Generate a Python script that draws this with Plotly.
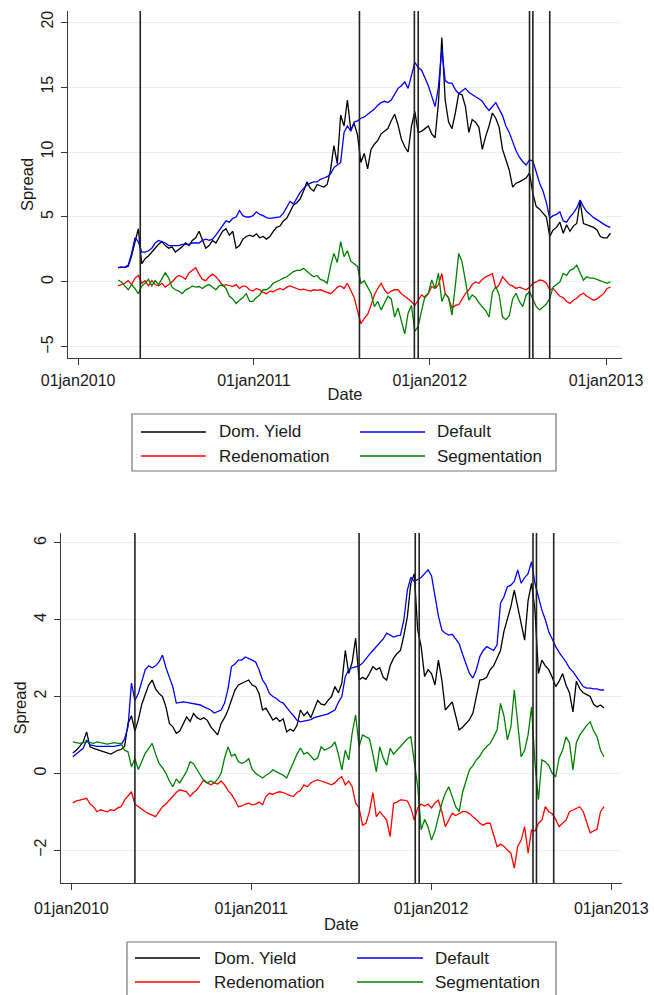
import pandas as pd
import plotly.graph_objects as go

W, H = 654, 995

# ---------------- data ----------------
series_names = ["Dom. Yield", "Default", "Redenomation", "Segmentation"]
series_colors = ["#000000", "#0000ff", "#ff0000", "#008000"]

event_dates = ["2010-05-10", "2011-08-08", "2011-11-30", "2011-12-08",
               "2012-07-26", "2012-08-02", "2012-09-06"]
x_tick_dates = ["2010-01-01", "2011-01-01", "2012-01-01", "2013-01-01"]
x_tick_labels = ["01jan2010", "01jan2011", "01jan2012", "01jan2013"]
top_y_ticks = [-5, 0, 5, 10, 15, 20]
bot_y_ticks = [-2, 0, 2, 4, 6]

# top panel: weekly observations starting 25 Mar 2010
top_start = "2010-03-25"
top_dom_yield = [
    1.1, 1.15, 1.1, 1.2, 2.0, 3.0, 4.1, 1.4, 1.8, 2.0,
    2.3, 2.6, 2.9, 3.1, 2.8, 2.6, 2.7, 2.3, 2.5, 2.7,
    3.0, 2.8, 3.2, 3.4, 3.9, 3.3, 2.6, 2.8, 3.2, 3.0,
    3.4, 3.9, 4.1, 3.6, 3.9, 2.6, 2.8, 3.3, 3.5, 3.6,
    3.5, 3.7, 3.4, 3.5, 3.3, 3.5, 3.9, 4.2, 4.3, 4.7,
    4.9, 5.4, 5.9, 6.1, 6.4, 7.0, 7.7, 7.2, 7.0, 7.5,
    7.4, 7.3, 7.5, 8.6, 10.5, 9.1, 12.85, 12.0, 14.0, 11.7,
    12.2, 11.3, 9.2, 9.9, 8.7, 10.2, 10.6, 10.9, 11.4, 11.6,
    11.8, 12.4, 12.9, 12.1, 11.0, 10.4, 10.0, 12.0, 13.1, 11.5,
    11.6, 11.8, 12.0, 11.4, 11.1, 13.8, 18.8, 14.0, 12.3, 11.8,
    13.0, 14.5, 14.4, 13.5, 11.5, 12.5, 12.3, 11.9, 10.2, 11.2,
    12.0, 13.0, 12.6, 11.9, 10.2, 9.4, 8.6, 7.3, 7.6, 7.7,
    7.85, 8.0, 8.4, 6.8, 5.8, 5.6, 5.3, 5.0, 3.5, 4.0,
    4.2, 4.6, 3.75, 4.4, 3.9, 4.3, 4.5, 6.2, 4.5, 4.4,
    4.25, 4.2, 4.0, 3.5, 3.4, 3.4, 3.75]
top_default = [
    1.1, 1.1, 1.15, 1.3, 2.2, 3.4, 3.1, 2.3, 2.3, 2.4,
    2.6, 3.0, 3.2, 3.1, 3.0, 2.8, 2.8, 2.8, 2.8, 2.9,
    2.9, 2.9, 3.0, 3.0, 3.0, 3.2, 3.3, 3.2, 3.3, 3.6,
    4.0, 4.4, 4.7, 4.6, 4.9, 5.0, 5.5, 5.1, 5.0, 5.0,
    5.1, 5.4, 5.2, 5.1, 4.95, 4.9, 4.95, 4.95, 5.0, 5.3,
    5.8, 6.2, 6.0, 6.5, 6.9, 7.2, 7.45, 7.6, 7.7, 7.7,
    7.9, 8.0, 8.1, 8.3, 8.8, 9.0, 9.2, 11.5, 12.0, 11.6,
    12.3, 12.4, 12.6, 12.7, 12.9, 13.1, 13.3, 13.6, 13.8, 13.9,
    13.8, 14.0, 14.5, 14.9, 15.1, 15.4, 14.9, 15.8, 16.9, 16.5,
    16.3, 15.7, 15.1, 14.3, 13.5, 15.0, 17.9, 15.5, 15.3, 15.3,
    14.8, 14.5, 14.7, 14.9, 14.6, 14.4, 14.25, 14.1, 13.9, 13.5,
    13.2, 13.5, 13.8, 13.3, 12.8, 12.0, 11.5, 10.8, 10.1, 9.6,
    9.25, 9.0, 9.4, 9.3, 8.5, 7.6, 7.0, 6.1, 4.9, 5.1,
    5.2, 5.4, 4.7, 4.6, 5.0, 5.3, 5.7, 6.3, 5.8, 5.4,
    5.2, 4.95, 4.8, 4.6, 4.45, 4.3, 4.2]
top_redenomination = [
    -0.3, -0.2, -0.1, 0.1, -0.2, 0.3, 0.5, -0.1, 0.1, -0.3,
    0.1, -0.2, -0.3, -0.1, -0.4, -0.2, 0.0, 0.3, 0.5, 0.4,
    0.2, 0.7, 0.9, 1.1, 0.6, 0.2, 0.1, 0.4, 0.6, 0.4,
    0.1, -0.3, -0.2, -0.3, -0.35, -0.2, -0.5, -0.3, -0.35, -0.6,
    -0.7, -0.5, -0.6, -0.8, -0.9, -0.7, -0.75, -0.6, -0.5, -0.6,
    -0.4, -0.3, -0.4, -0.5, -0.6, -0.55, -0.6, -0.7, -0.6, -0.65,
    -0.6, -0.7, -0.8, -0.9, -0.7, -0.4, -0.3, -0.5, -0.1, -0.6,
    -1.2, -2.2, -3.2, -2.8, -2.5, -1.8, -1.0, -0.5, -0.1, -0.6,
    -0.9, -0.7, -0.6, -0.6, -0.9, -1.1, -1.3, -1.5, -1.8, -1.4,
    -1.0, -1.2, -0.9, -0.35, -0.5, -0.2, 0.65, -0.9, -1.25, -2.0,
    -1.8, -1.75, -1.3, -0.9, -0.6, -0.2, 0.0, -0.1, 0.2, 0.4,
    0.5, 0.65, -0.5, -0.2, 0.4, 0.1, -0.2, -0.3, -0.5, -0.4,
    -0.5, -0.6, -0.4, -0.1, 0.0, 0.15, 0.1, -0.1, -0.6, -0.5,
    -0.8, -1.1, -1.2, -1.5, -1.65, -1.4, -1.25, -1.0, -0.87, -1.1,
    -1.25, -1.4, -1.3, -1.1, -0.9, -0.5, -0.4]
top_segmentation = [
    0.15, 0.0, -0.3, -0.6, -0.2, -0.5, -0.9, -0.3, -0.1, 0.2,
    -0.3, 0.1, -0.2, 0.2, 0.7, 0.3, -0.4, -0.6, -0.7, -0.9,
    -0.6, -0.5, -0.3, -0.4, -0.35, -0.5, -0.3, -0.2, -0.4, -0.6,
    -0.3, -0.2, -0.5, -1.1, -1.3, -1.65, -1.4, -1.2, -0.9, -1.5,
    -1.5, -1.2, -1.0, -0.6, -0.6, -0.4, -0.1, 0.0, 0.15, 0.3,
    0.4, 0.6, 0.8, 0.9, 0.9, 1.05, 0.8, 0.6, 0.4, 0.5,
    0.2, 0.1, -0.1, 1.2, 2.2, 1.5, 3.1, 1.95, 2.4, 1.6,
    1.4, 1.2, -0.1, 0.1, -0.4, -0.87, -1.9, -1.5, -2.15, -1.6,
    -1.1, -1.3, -2.7, -2.0, -3.1, -4.0, -2.4, -1.8, -3.8, -3.4,
    -2.2, -1.1, -0.87, 0.15, -0.5, 0.67, -1.5, -0.9, -1.2, -2.55,
    -0.3, 2.2, 1.55, 0.1, -1.4, -1.0, -1.2, -1.6, -1.9, -2.2,
    -2.7, -0.8, -0.35, -1.0, -2.7, -2.9, -2.6, -1.3, -0.87, -1.5,
    -1.9, -1.0, -0.75, -1.4, -1.9, -2.15, -1.9, -1.7, -1.25, -0.4,
    -0.2, 0.0, 0.65, 0.5, 0.9, 1.0, 1.3, 0.7, 0.15, 0.4,
    0.3, 0.3, 0.2, 0.1, 0.0, -0.1, 0.0]

# bottom panel: weekly observations starting 4 Jan 2010
bot_start = "2010-01-04"
bot_dom_yield = [
    0.53, 0.6, 0.7, 0.82, 1.08, 0.69, 0.65, 0.62, 0.6, 0.56,
    0.53, 0.5, 0.55, 0.6, 0.62, 0.7, 1.3, 1.5, 1.1, 1.4,
    1.8, 2.08, 2.3, 2.43, 2.2, 2.08, 2.0, 1.73, 1.3, 1.21,
    1.04, 1.1, 1.3, 1.47, 1.35, 1.56, 1.45, 1.4, 1.45, 1.38,
    1.21, 1.1, 1.0, 1.3, 1.45, 1.65, 1.9, 2.17, 2.3, 2.35,
    2.4, 2.43, 2.3, 2.26, 2.08, 1.65, 1.7, 1.55, 1.39, 1.45,
    1.35, 1.42, 1.08, 1.15, 1.1, 1.25, 1.65, 1.5, 1.6, 1.45,
    1.7, 1.9, 1.8, 1.78, 1.9, 2.0, 2.26, 2.1, 2.35, 3.2,
    2.6, 2.9, 3.52, 2.43, 2.5, 2.45, 2.6, 2.78, 2.7, 2.75,
    2.5, 2.43, 2.8, 3.0, 3.12, 3.2, 3.6, 4.08, 4.95, 5.2,
    3.73, 3.3, 2.52, 2.7, 2.6, 2.3, 2.95, 2.43, 1.65, 1.75,
    1.86, 1.5, 1.13, 1.2, 1.3, 1.4, 1.57, 2.0, 2.43, 2.45,
    2.5, 2.7, 2.8, 3.0, 3.2, 3.7, 4.0, 4.34, 4.77, 4.3,
    3.9, 3.47, 4.5, 4.95, 4.25, 2.6, 2.95, 2.8, 2.7, 2.5,
    2.26, 2.4, 2.6, 2.3, 2.1, 1.6, 2.4, 2.2, 2.1, 2.05,
    2.0, 1.8, 1.73, 1.78, 1.7]
bot_default = [
    0.43, 0.5, 0.56, 0.65, 0.87, 0.74, 0.72, 0.7, 0.7, 0.7,
    0.7, 0.69, 0.7, 0.72, 0.74, 0.9, 1.21, 2.35, 1.9, 2.08,
    2.4, 2.7, 2.8, 2.75, 2.8, 2.9, 3.08, 2.75, 2.5, 2.25,
    1.83, 1.84, 1.86, 1.85, 1.83, 1.82, 1.8, 1.78, 1.73, 1.7,
    1.65, 1.57, 1.6, 1.65, 1.83, 2.2, 2.78, 2.85, 2.95, 2.95,
    3.03, 3.0, 2.95, 2.9, 2.7, 2.43, 2.3, 2.08, 2.0, 1.95,
    1.87, 1.83, 1.7, 1.6, 1.5, 1.38, 1.34, 1.36, 1.38, 1.4,
    1.45, 1.47, 1.5, 1.52, 1.55, 1.6, 1.65, 1.85, 2.0, 2.52,
    2.7, 2.75, 2.78, 2.8, 2.87, 3.0, 3.1, 3.2, 3.3, 3.38,
    3.5, 3.65, 3.6, 3.55, 3.58, 3.6, 4.0, 4.77, 5.1, 5.0,
    5.05, 5.1, 5.2, 5.3, 5.15, 4.6, 4.1, 3.73, 3.65, 3.6,
    3.62, 3.5, 3.38, 3.1, 2.87, 2.6, 2.48, 2.7, 3.04, 3.2,
    3.3, 3.25, 3.2, 3.35, 4.43, 4.6, 4.86, 4.9, 5.0, 5.3,
    4.95, 5.1, 5.2, 5.51, 4.95, 4.6, 4.25, 4.0, 3.69, 3.5,
    3.3, 3.15, 3.04, 2.9, 2.74, 2.65, 2.52, 2.4, 2.26, 2.22,
    2.22, 2.2, 2.2, 2.17, 2.17]
bot_redenomination = [
    -0.77, -0.72, -0.7, -0.68, -0.65, -0.8, -0.87, -1.0, -0.95, -0.98,
    -1.0, -0.95, -0.97, -0.9, -0.87, -0.7, -0.6, -0.48, -0.8, -0.87,
    -0.95, -1.0, -1.05, -1.1, -1.13, -1.0, -0.87, -0.8, -0.69, -0.6,
    -0.5, -0.43, -0.45, -0.48, -0.6, -0.5, -0.43, -0.3, -0.17, -0.25,
    -0.3, -0.25, -0.28, -0.2, -0.3, -0.45, -0.55, -0.7, -0.87, -0.85,
    -0.8, -0.78, -0.82, -0.8, -0.75, -0.82, -0.6, -0.52, -0.55, -0.5,
    -0.48, -0.5, -0.55, -0.58, -0.6, -0.5, -0.45, -0.3, -0.35, -0.25,
    -0.2, -0.17, -0.2, -0.22, -0.26, -0.3, -0.25, -0.15, -0.09, -0.3,
    -0.2, -0.35, -0.78, -0.9, -1.35, -1.3, -1.0, -0.5, -1.13, -1.0,
    -1.1, -1.22, -1.65, -0.78, -0.75, -0.69, -0.7, -0.72, -0.9, -1.22,
    -0.9, -0.8, -0.85, -0.8, -0.9, -0.77, -0.7, -1.0, -1.39, -1.2,
    -1.04, -1.1, -1.05, -1.0, -1.0, -1.05, -1.13, -1.2, -1.3, -1.35,
    -1.3, -1.3, -1.6, -1.91, -1.85, -1.9, -2.0, -2.08, -2.47, -1.9,
    -1.74, -1.39, -2.08, -1.48, -1.5, -1.3, -1.22, -0.87, -1.0, -1.05,
    -1.2, -1.39, -1.3, -1.22, -1.0, -0.96, -0.9, -0.87, -1.0, -1.3,
    -1.55, -1.5, -1.45, -1.0, -0.87]
bot_segmentation = [
    0.82, 0.8, 0.78, 0.8, 0.82, 0.8, 0.78, 0.82, 0.8, 0.78,
    0.76, 0.78, 0.8, 0.78, 0.78, 0.6, 0.56, 0.17, 0.38, 0.1,
    0.3, 0.52, 0.65, 0.78, 0.5, 0.26, 0.15, 0.0, -0.2, -0.35,
    -0.15, -0.25, -0.1, 0.05, 0.3, 0.25, 0.1, -0.05, -0.2, -0.25,
    -0.2, -0.25, -0.15, 0.0, 0.4, 0.69, 0.45, 0.5, 0.3, 0.26,
    0.3, 0.38, 0.1, 0.0, -0.05, -0.12, -0.05, 0.0, 0.09, 0.05,
    0.0, -0.05, -0.12, 0.1, 0.3, 0.5, 0.66, 0.5, 0.55, 0.45,
    0.35, 0.4, 0.69, 0.6, 0.65, 0.7, 0.82, 0.5, 0.09, 0.6,
    0.35, 1.05, 1.52, 0.7, 1.0, 0.95, 0.9, 0.5, 0.04, 0.69,
    0.4, 0.21, 0.65, 0.5, 0.6, 0.7, 0.8, 0.9, 0.95, 0.35,
    -0.35, -1.47, -1.2, -1.4, -1.74, -1.5, -1.1, -0.78, -0.52, -0.35,
    -0.6, -0.87, -1.0, -0.5, -0.2, 0.09, 0.2, 0.35, 0.45, 0.6,
    0.7, 0.78, 0.95, 1.13, 1.82, 1.5, 0.87, 1.2, 2.17, 1.3,
    0.43, 0.6, 1.0, 1.73, 0.26, -0.69, 0.35, 0.3, 0.2, 0.0,
    -0.09, 0.4, 0.6, 0.95, 0.8, 0.09, 0.8, 1.0, 1.13, 1.25,
    1.34, 1.1, 0.95, 0.6, 0.43]

top_series = [top_dom_yield, top_default, top_redenomination, top_segmentation]
bot_series = [bot_dom_yield, bot_default, bot_redenomination, bot_segmentation]
top_dates = pd.date_range(top_start, periods=len(top_dom_yield), freq="7D")
bot_dates = pd.date_range(bot_start, periods=len(bot_dom_yield), freq="7D")

# ---------------- figure ----------------
FONT = "Liberation Sans, Arial, Helvetica, sans-serif"
TXT = "#1a1a1a"
AX = "#3a3a3a"
GRID = "#e8f0f0"


def px_x(px):
    return px / W


def px_y(py):
    return 1 - py / H


fig = go.Figure()

for vals, name, col in zip(top_series, series_names, series_colors):
    fig.add_trace(go.Scatter(x=top_dates, y=vals, mode="lines", name=name,
                             line=dict(color=col, width=1.3),
                             xaxis="x", yaxis="y", showlegend=False))
for vals, name, col in zip(bot_series, series_names, series_colors):
    fig.add_trace(go.Scatter(x=bot_dates, y=vals, mode="lines", name=name,
                             line=dict(color=col, width=1.3),
                             xaxis="x2", yaxis="y2", showlegend=False))

shapes = []
for xr, yr in (("x", "y domain"), ("x2", "y2 domain")):
    for d in event_dates:
        shapes.append(dict(type="line", xref=xr, yref=yr, x0=d, x1=d, y0=0, y1=1,
                           line=dict(color="#222222", width=1.6), layer="above"))

annotations = []
# manual legends (box, line samples, labels)
legend_specs = [
    dict(box=(132, 556, 414, 471), rows=(432, 456),
         cols=((141, 206, 217), (360, 425, 435))),
    dict(box=(127, 556, 942, 1010), rows=(958, 982),
         cols=((135, 200, 212), (357, 423, 433))),
]
for spec in legend_specs:
    bx0, bx1, by0, by1 = spec["box"]
    shapes.append(dict(type="rect", xref="paper", yref="paper",
                       x0=px_x(bx0), x1=px_x(bx1), y0=px_y(by1), y1=px_y(by0),
                       line=dict(color="#777777", width=1.2), fillcolor="white"))
    for i, name in enumerate(series_names):
        r, c = divmod(i, 2)
        ly = spec["rows"][r]
        lx0, lx1, tx = spec["cols"][c]
        shapes.append(dict(type="line", xref="paper", yref="paper",
                           x0=px_x(lx0), x1=px_x(lx1), y0=px_y(ly), y1=px_y(ly),
                           line=dict(color=series_colors[i], width=1.5)))
        annotations.append(dict(text=name, xref="paper", yref="paper",
                                x=px_x(tx), y=px_y(ly), xanchor="left", yanchor="middle",
                                showarrow=False, font=dict(family=FONT, size=17, color=TXT)))

common_x = dict(type="date", tickmode="array", tickvals=x_tick_dates, ticktext=x_tick_labels,
                ticks="outside", ticklen=6, tickcolor=AX, tickwidth=1, automargin=False,
                showline=True, linecolor=AX, linewidth=1, showgrid=False, zeroline=False,
                tickfont=dict(family=FONT, size=16, color=TXT))
common_y = dict(tickmode="array", ticks="outside", ticklen=6, tickcolor=AX, tickwidth=1,
                showline=True, linecolor=AX, linewidth=1, showgrid=True, gridcolor=GRID,
                gridwidth=1.2, zeroline=False, tickangle=-90, ticklabelstandoff=2,
                automargin=False,
                tickfont=dict(family=FONT, size=16, color=TXT),
                title=dict(text="Spread", font=dict(family=FONT, size=16.5, color=TXT), standoff=0))

fig.update_layout(
    width=W, height=H, margin=dict(l=0, r=0, t=0, b=0, autoexpand=False),
    paper_bgcolor="white", plot_bgcolor="white",
    font=dict(family=FONT, color=TXT),
    showlegend=False,
    xaxis=dict(common_x, domain=[px_x(68), px_x(622)], anchor="y",
               range=["2009-12-11", "2013-02-03"], ticklabelstandoff=2,
               title=dict(text="Date", font=dict(family=FONT, size=16.5, color=TXT), standoff=0)),
    yaxis=dict(common_y, domain=[px_y(358), px_y(11)], anchor="x",
               range=[-5.85, 20.85], tickvals=top_y_ticks),
    xaxis2=dict(common_x, domain=[px_x(61), px_x(621.7)], anchor="y2",
                range=["2009-12-11", "2013-01-22"], ticklabelstandoff=5,
                title=dict(text="Date", font=dict(family=FONT, size=16.5, color=TXT), standoff=2)),
    yaxis2=dict(common_y, domain=[px_y(883), px_y(533)], anchor="x2",
                range=[-2.857, 6.26], tickvals=bot_y_ticks),
    shapes=shapes,
    annotations=annotations,
)

fig.write_html("out.html")
